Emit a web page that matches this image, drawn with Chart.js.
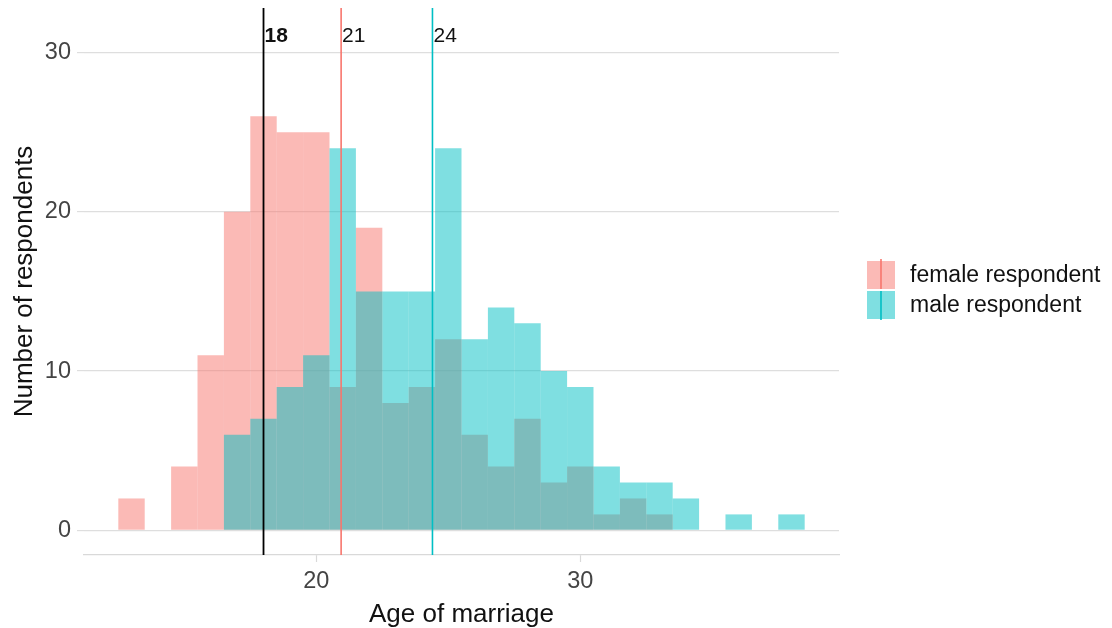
<!DOCTYPE html>
<html>
<head>
<meta charset="utf-8">
<script src="https://cdn.jsdelivr.net/npm/chart.js@4.4.1/dist/chart.umd.min.js"></script>
<style>
  html, body { margin: 0; padding: 0; background: #fff; }
</style>
</head>
<body>
<canvas id="ageChart" width="1112" height="628"></canvas>
<script>
// one-year bins, centred on each age
var ages = [13, 14, 15, 16, 17, 18, 19, 20, 21, 22, 23, 24, 25, 26, 27, 28, 29, 30, 31, 32, 33, 34, 35, 36, 37, 38];
var femaleCounts = [2, 0, 4, 11, 20, 26, 25, 25, 9, 19, 8, 9, 12, 6, 4, 7, 3, 4, 1, 2, 1, 0, 0, 0, 0, 0];
var maleCounts = [0, 0, 0, 0, 6, 7, 9, 11, 24, 15, 15, 15, 24, 12, 14, 13, 10, 9, 4, 3, 3, 2, 0, 1, 0, 1];

// legal age and the two group means
var refLines = [18, 20.94, 24.4];
var refColors = ['#000000', '#F8766D', '#00BFC4'];

var xTicks = [20, 30];
var yTicks = [0, 10, 20, 30];
var seriesNames = ['female respondent', 'male respondent'];

var FONT = '"Liberation Sans", Arial, sans-serif';

// empty bins are left out so no zero-height sliver is drawn
function toPoints(counts) {
  var pts = [];
  ages.forEach(function (a, i) {
    if (counts[i] > 0) pts.push({ x: a, y: counts[i] });
  });
  return pts;
}

var Y_MIN = -1.55, Y_MAX = 32.8;

var lineSets = refLines.map(function (v, i) {
  return {
    type: 'line',
    data: [{ x: v, y: Y_MIN }, { x: v, y: Y_MAX }],
    borderColor: refColors[i],
    borderWidth: i === 0 ? 1.8 : 1.6,
    pointRadius: 0,
    order: 0
  };
});

// value labels at the top of each reference line
var refLabelPlugin = {
  id: 'refLabels',
  afterDatasetsDraw: function (chart) {
    var ctx = chart.ctx;
    var xs = chart.scales.x, ys = chart.scales.y;
    ctx.save();
    ctx.textAlign = 'left';
    ctx.textBaseline = 'middle';
    refLines.forEach(function (v, i) {
      ctx.font = (i === 0 ? 'bold ' : '') + '21px ' + FONT;
      ctx.fillStyle = '#111';
      ctx.fillText(String(Math.round(v)), xs.getPixelForValue(v) + 1, ys.getPixelForValue(31));
    });
    ctx.restore();
  }
};

// ggplot-style legend to the right of the panel
var sideLegendPlugin = {
  id: 'sideLegend',
  afterDraw: function (chart) {
    var ctx = chart.ctx;
    var fills = ['rgba(248,118,109,0.5)', 'rgba(0,191,196,0.5)'];
    var lines = [refColors[1], refColors[2]];
    var x0 = 867, y0 = 261, key = 28;
    ctx.save();
    seriesNames.forEach(function (name, i) {
      var top = y0 + i * (key + 2);
      ctx.fillStyle = fills[i];
      ctx.fillRect(x0, top, key, key);
      ctx.strokeStyle = lines[i];
      ctx.lineWidth = 1.6;
      ctx.beginPath();
      ctx.moveTo(x0 + key / 2, top - (i === 0 ? 2 : 0));
      ctx.lineTo(x0 + key / 2, top + key + (i === 1 ? 1 : 0));
      ctx.stroke();
      ctx.fillStyle = '#111';
      ctx.font = '23px ' + FONT;
      ctx.textAlign = 'left';
      ctx.textBaseline = 'middle';
      ctx.fillText(name, 910, top + key / 2 + 1);
    });
    ctx.restore();
  }
};

var ctx = document.getElementById('ageChart').getContext('2d');
var ageChart = new Chart(ctx, {
  type: 'bar',
  data: {
    datasets: lineSets.concat([
      {
        label: seriesNames[1],
        data: toPoints(maleCounts),
        backgroundColor: 'rgba(0,191,196,0.5)',
        borderWidth: 0,
        inflateAmount: 0,
        grouped: false,
        categoryPercentage: 1,
        barPercentage: 1,
        order: 1
      },
      {
        label: seriesNames[0],
        data: toPoints(femaleCounts),
        backgroundColor: 'rgba(248,118,109,0.5)',
        borderWidth: 0,
        inflateAmount: 0,
        grouped: false,
        categoryPercentage: 1,
        barPercentage: 1,
        order: 2
      }
    ])
  },
  options: {
    responsive: false,
    animation: false,
    devicePixelRatio: 1,
    layout: { padding: { left: 0, top: 8, right: 273, bottom: 0 } },
    plugins: {
      legend: { display: false },
      tooltip: { enabled: false }
    },
    scales: {
      x: {
        type: 'linear',
        offset: false,
        min: 11.2,
        max: 39.8,
        afterBuildTicks: function (s) { s.ticks = xTicks.map(function (v) { return { value: v }; }); },
        afterFit: function (s) { s.height = 73; s.paddingLeft = 0; s.paddingRight = 0; },
        ticks: {
          autoSkip: false,
          maxRotation: 0,
          padding: 5,
          color: '#444',
          font: { family: FONT, size: 23.5 }
        },
        grid: {
          offset: false,
          drawOnChartArea: false,
          drawTicks: true,
          tickLength: 7,
          tickColor: '#d9d9d9',
          tickWidth: 1.2
        },
        border: { display: true, color: '#d9d9d9', width: 1.2 },
        title: {
          display: true,
          text: 'Age of marriage',
          color: '#111',
          font: { family: FONT, size: 26 },
          padding: { top: 0, bottom: -2 }
        }
      },
      y: {
        type: 'linear',
        min: Y_MIN,
        max: Y_MAX,
        afterBuildTicks: function (s) { s.ticks = yTicks.map(function (v) { return { value: v }; }); },
        afterFit: function (s) { s.width = 84; s.paddingTop = 0; s.paddingBottom = 0; },
        ticks: {
          padding: 6,
          color: '#444',
          font: { family: FONT, size: 23.5 }
        },
        grid: {
          color: '#dedede',
          lineWidth: 1.2,
          drawTicks: true,
          tickLength: 7,
          tickColor: '#dedede'
        },
        border: { display: false },
        title: {
          display: true,
          text: 'Number of respondents',
          color: '#111',
          font: { family: FONT, size: 26 },
          padding: { top: 9, bottom: 0 }
        }
      }
    }
  },
  plugins: [refLabelPlugin, sideLegendPlugin]
});
</script>
</body>
</html>
